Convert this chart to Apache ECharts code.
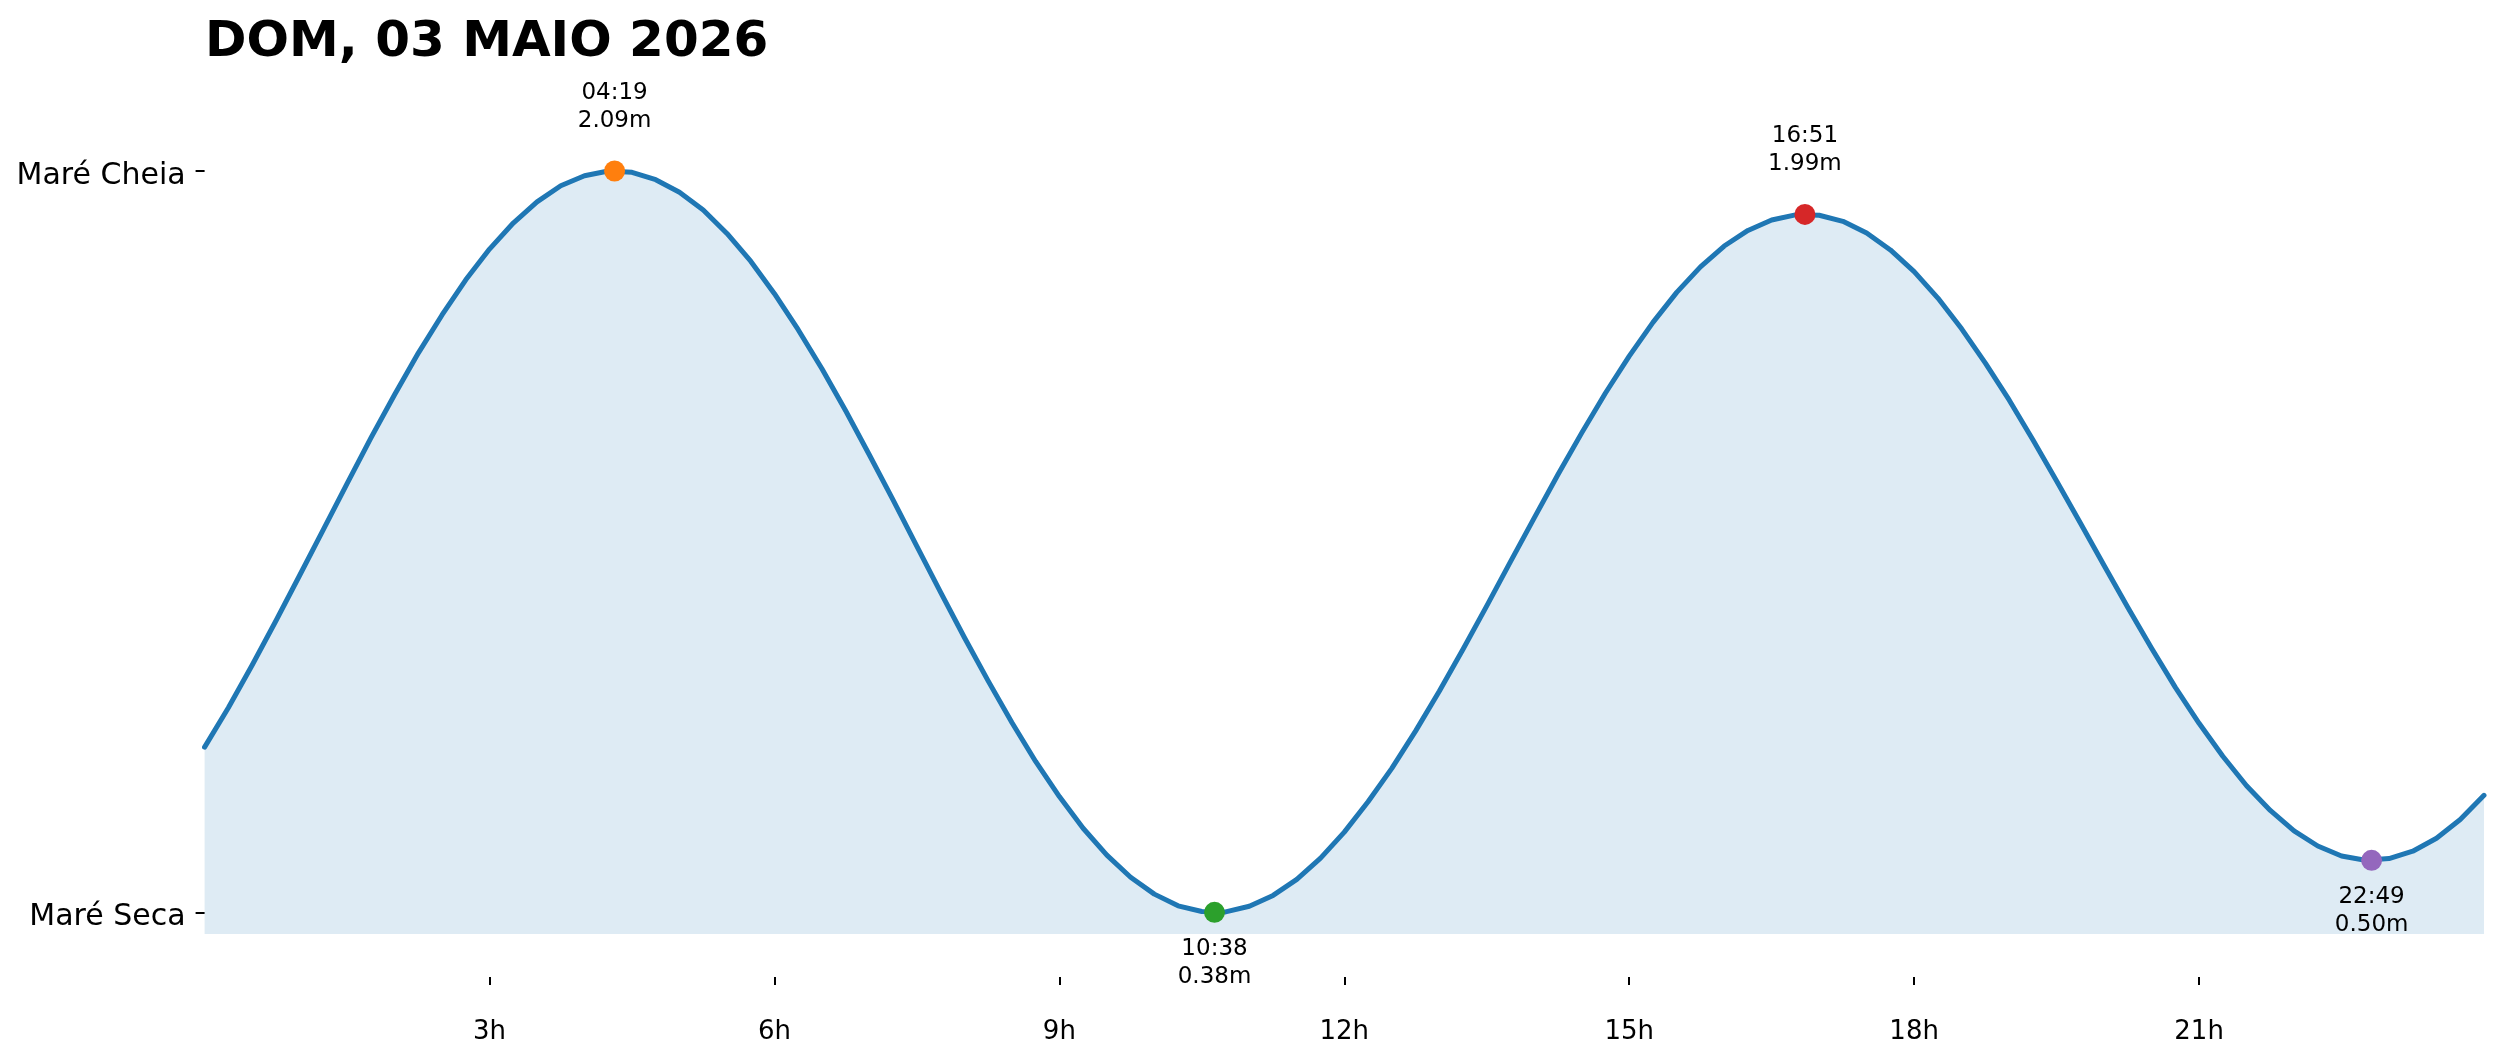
<!DOCTYPE html>
<html>
<head>
<meta charset="utf-8">
<script src="https://cdn.jsdelivr.net/npm/echarts@6/dist/echarts.min.js"></script>
<style>
html,body{margin:0;padding:0;background:#fff;}
#chart{width:2501px;height:1062px;}
</style>
</head>
<body>
<div id="chart"></div>
<script>
// ---- data ----
const titleText = 'DOM, 03 MAIO 2026';
const curveHours = [0,0.25,0.5,0.75,1,1.25,1.5,1.75,2,2.25,2.5,2.75,3,3.25,3.5,3.75,4,4.25,4.5,4.75,5,5.25,5.5,5.75,6,6.25,6.5,6.75,7,7.25,7.5,7.75,8,8.25,8.5,8.75,9,9.25,9.5,9.75,10,10.25,10.5,10.75,11,11.25,11.5,11.75,12,12.25,12.5,12.75,13,13.25,13.5,13.75,14,14.25,14.5,14.75,15,15.25,15.5,15.75,16,16.25,16.5,16.75,17,17.25,17.5,17.75,18,18.25,18.5,18.75,19,19.25,19.5,19.75,20,20.25,20.5,20.75,21,21.25,21.5,21.75,22,22.25,22.5,22.75,23,23.25,23.5,23.75,24];
const curveHeights = [0.761,0.852,0.950,1.052,1.157,1.263,1.369,1.474,1.574,1.670,1.758,1.839,1.910,1.970,2.019,2.056,2.079,2.090,2.087,2.070,2.041,2.000,1.946,1.882,1.807,1.724,1.634,1.537,1.435,1.331,1.224,1.118,1.014,0.914,0.818,0.728,0.647,0.574,0.512,0.461,0.422,0.395,0.382,0.381,0.394,0.419,0.456,0.505,0.565,0.635,0.712,0.798,0.890,0.987,1.087,1.189,1.290,1.390,1.486,1.578,1.663,1.741,1.810,1.869,1.917,1.953,1.977,1.989,1.988,1.974,1.947,1.908,1.858,1.797,1.726,1.647,1.562,1.470,1.375,1.278,1.180,1.083,0.989,0.899,0.816,0.740,0.672,0.615,0.568,0.533,0.510,0.500,0.504,0.521,0.551,0.594,0.650];
const extremeTimes = ['04:19','10:38','16:51','22:49'];
const extremeHeights = [2.09,0.38,1.99,0.50];
const extremeKinds = ['high','low','high','low'];
const extremeColors = ['#ff7f0e','#2ca02c','#d62728','#9467bd'];
const xTickHours = [3,6,9,12,15,18,21];
const yTickValues = [2.09,0.38];
const yTickLabels = ['Maré Cheia','Maré Seca'];
const fillBase = 0.33;

const toHour = s => { const p = s.split(':'); return (+p[0]) + (+p[1]) / 60; };
const FONT = 'DejaVu Sans';

const chart = echarts.init(document.getElementById('chart'), null, {renderer:'canvas'});
const extremeData = extremeTimes.map((t, i) => ({
  value: [toHour(t), extremeHeights[i]],
  itemStyle: {color: extremeColors[i], opacity: 1},
  label: {
    show: true,
    position: extremeKinds[i] === 'high' ? 'top' : 'bottom',
    distance: extremeKinds[i] === 'high' ? 26 : 12,
    formatter: t + '\n' + extremeHeights[i].toFixed(2) + 'm',
    fontFamily: FONT, fontSize: 23, lineHeight: 28, color: '#000', align: 'center'
  }
}));

chart.setOption({
  animation: false,
  title: {
    text: titleText, left: 205, top: 18, padding: 0,
    textStyle: {fontFamily: FONT, fontWeight: 'bold', fontSize: 50, color: '#000'}
  },
  grid: {left: 204.6, right: 17, top: 80, bottom: 128},
  xAxis: {
    type: 'value', min: 0, max: 24, interval: 3, offset: 43,
    splitLine: {show: false},
    axisLine: {show: false},
    axisTick: {show: true, length: 8, lineStyle: {color: '#000', width: 2}, customValues: xTickHours},
    axisLabel: {
      customValues: xTickHours, margin: 42,
      formatter: v => v + 'h',
      fontFamily: FONT, fontSize: 26, color: '#000'
    }
  },
  yAxis: {
    type: 'value', min: fillBase, max: 2.3,
    splitLine: {show: false},
    axisLine: {show: false},
    axisTick: {show: true, length: 9, lineStyle: {color: '#000', width: 2}, customValues: yTickValues},
    axisLabel: {
      customValues: yTickValues, margin: 19,
      formatter: v => { const i = yTickValues.findIndex(x => Math.abs(x - v) < 1e-6); return i >= 0 ? '{a|' + yTickLabels[i] + '}' : ''; },
      rich: {a: {fontFamily: FONT, fontSize: 30, color: '#000', padding: [10, 0, 0, 0]}},
      fontFamily: FONT, fontSize: 30, color: '#000'
    }
  },
  series: [
    {
      type: 'line',
      data: curveHours.map((h, i) => [h, curveHeights[i]]),
      smooth: false,
      showSymbol: false,
      lineStyle: {color: '#1f77b4', width: 5, join: 'round', cap: 'round'},
      areaStyle: {color: '#1f77b4', opacity: 0.15, origin: 'start'},
      z: 2
    },
    {
      type: 'scatter',
      data: extremeData,
      symbolSize: 21,
      z: 5
    }
  ]
});
</script>
</body>
</html>
